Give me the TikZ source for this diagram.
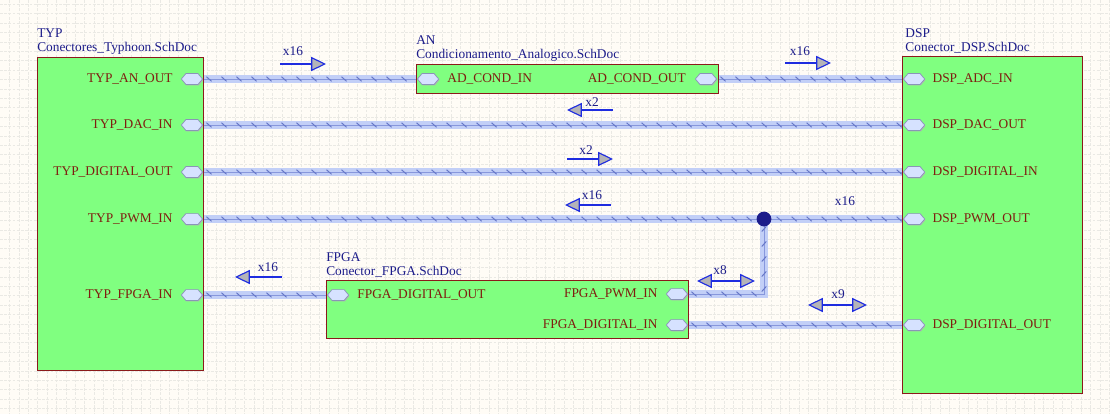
\documentclass[tikz,border=0pt]{standalone}
\usepackage{fontspec}
\setmainfont{Liberation Serif}
\usetikzlibrary{arrows.meta,positioning,shapes.symbols,decorations.markings,backgrounds,shadows}
\definecolor{paper}{HTML}{FFFCF6}
\definecolor{gridline}{HTML}{EAE9E4}
\definecolor{sheetfill}{HTML}{80FF80}
\definecolor{sheetline}{HTML}{8B1A1A}
\definecolor{portred}{HTML}{7F1D10}
\definecolor{navy}{HTML}{1C1C8A}
\definecolor{harnesslt}{HTML}{C2CFF7}
\definecolor{harnessdk}{HTML}{8797DC}
\definecolor{tickblue}{HTML}{6677C8}
\definecolor{portfill}{HTML}{D6E2FF}
\definecolor{portline}{HTML}{8A94B8}
\definecolor{dirblue}{HTML}{1E2CE0}
\definecolor{tipgrey}{HTML}{B4B4B8}
\tikzset{
  sheet/.style={
    draw=sheetline, fill=sheetfill, line width=0.7pt,
    anchor=north west, inner sep=0pt
  },
  sheetname/.style={
    align=left, inner sep=0pt, text=navy,
    font=\fontsize{9.5}{10}\selectfont
  },
  port/.style={
    shape=signal, signal to=east and west, signal pointer angle=100,
    draw=portline, fill=portfill, line width=0.5pt,
    minimum width=0.53cm, minimum height=0.27cm, inner sep=0pt,
    drop shadow={shadow xshift=0.5pt, shadow yshift=-0.7pt, fill=gray!60, opacity=1}
  },
  portname/.style={inner sep=0pt, text=portred, font=\fontsize{9.5}{11}\selectfont},
  harness/.style={
    draw=harnesslt, line width=5pt,
    postaction={draw=harnessdk, line width=0.6pt},
    postaction={decorate, decoration={markings,
      mark=between positions 0.15cm and 1 step 0.375cm with
        {\draw[tickblue, line width=0.7pt] (-1.8pt,1.6pt) -- (1.8pt,-1.6pt);}}}
  },
  junction/.style={circle, fill=navy, inner sep=0pt, minimum size=0.37cm},
  dirtip/.tip={Triangle[length=10.5pt, width=10pt, fill=tipgrey]},
  dirarrow/.style={draw=dirblue, line width=0.8pt, -dirtip},
  twoway/.style={draw=dirblue, line width=0.8pt, dirtip-dirtip},
  dirlabel/.style={inner sep=0pt, text=navy, font=\fontsize{9.5}{11}\selectfont}
}

\begin{document}
\begin{tikzpicture}[x=0.025cm, y=-0.025cm]
  \useasboundingbox (0,0) rectangle (1110,414);
  \begin{scope}[on background layer]
    \fill[paper] (0,0) rectangle (1110,414);
    \foreach \gx in {9.4,18.8,...,1110}
      \draw[gridline, line width=0.4pt, dash pattern=on 2pt off 1pt] (\gx,0) -- (\gx,414);
    \foreach \gy in {4.2,13.6,...,414}
      \draw[gridline, line width=0.4pt, dash pattern=on 2pt off 1pt] (0,\gy) -- (1110,\gy);
  \end{scope}

  % sheet symbols
  \node[sheet, minimum width=4.15cm, minimum height=7.825cm] (typ) at (37,57) {};
  \node[sheet, minimum width=7.55cm, minimum height=0.725cm] (an) at (416,64) {};
  \node[sheet, minimum width=4.5cm, minimum height=8.425cm] (dsp) at (902,56) {};
  \node[sheet, minimum width=9.05cm, minimum height=1.45cm] (fpga) at (326,280) {};

  \node[sheetname, above right=0.06cm and 0cm of typ.north west] (typname) {TYP\\Conectores\_Typhoon.SchDoc};
  \node[sheetname, above right=0.06cm and 0cm of an.north west] (anname) {AN\\Condicionamento\_Analogico.SchDoc};
  \node[sheetname, above right=0.06cm and 0.08cm of dsp.north west] (dspname) {DSP\\Conector\_DSP.SchDoc};
  \node[sheetname, above right=0.06cm and 0cm of fpga.north west] (fpganame) {FPGA\\Conector\_FPGA.SchDoc};

  % sheet entries
  \node[port, anchor=east] (typan) at (203,79) {};
  \node[port, anchor=east] (typdac) at (203,125) {};
  \node[port, anchor=east] (typdig) at (203,172) {};
  \node[port, anchor=east] (typpwm) at (203,219) {};
  \node[port, anchor=east] (typfpga) at (203,295) {};
  \node[portname, left=0.2cm of typan] {TYP\_AN\_OUT};
  \node[portname, left=0.2cm of typdac] {TYP\_DAC\_IN};
  \node[portname, left=0.2cm of typdig] {TYP\_DIGITAL\_OUT};
  \node[portname, left=0.2cm of typpwm] {TYP\_PWM\_IN};
  \node[portname, left=0.2cm of typfpga] {TYP\_FPGA\_IN};

  \node[port, anchor=west] (anin) at (417,79) {};
  \node[port, anchor=east] (anout) at (717,79) {};
  \node[portname, right=0.2cm of anin] {AD\_COND\_IN};
  \node[portname, left=0.22cm of anout] {AD\_COND\_OUT};

  \node[port, anchor=west] (dspadc) at (903,79) {};
  \node[port, anchor=west] (dspdac) at (903,125) {};
  \node[port, anchor=west] (dspdig) at (903,172) {};
  \node[port, anchor=west] (dsppwm) at (903,219) {};
  \node[port, anchor=west] (dspdigout) at (903,325) {};
  \node[portname, right=0.18cm of dspadc] {DSP\_ADC\_IN};
  \node[portname, right=0.18cm of dspdac] {DSP\_DAC\_OUT};
  \node[portname, right=0.18cm of dspdig] {DSP\_DIGITAL\_IN};
  \node[portname, right=0.18cm of dsppwm] {DSP\_PWM\_OUT};
  \node[portname, right=0.18cm of dspdigout] {DSP\_DIGITAL\_OUT};

  \node[port, anchor=west] (fpgaout) at (327,295) {};
  \node[port, anchor=east] (fpgapwm) at (688,294) {};
  \node[port, anchor=east] (fpgadig) at (688,325) {};
  \node[portname, right=0.2cm of fpgaout] {FPGA\_DIGITAL\_OUT};
  \node[portname, left=0.2cm of fpgapwm] {FPGA\_PWM\_IN};
  \node[portname, left=0.2cm of fpgadig] {FPGA\_DIGITAL\_IN};

  \node[junction] (pwmjunc) at (764,219) {};

  % harnesses
  \begin{scope}[on background layer]
    \draw[harness] (typan.east) -- (anin.west);
    \draw[harness] (anout.east) -- (dspadc.west);
    \draw[harness] (typdac.east) -- (dspdac.west);
    \draw[harness] (typdig.east) -- (dspdig.west);
    \draw[harness] (typpwm.east) -- (dsppwm.west);
    \draw[harness] (fpgapwm.east) -| (pwmjunc.center);
    \draw[harness] (typfpga.east) -- (fpgaout.west);
    \draw[harness] (fpgadig.east) -- (dspdigout.west);
  \end{scope}

  % direction markers
  \coordinate (d1a) at (280,64);  \coordinate (d1b) at (326,64);
  \coordinate (d2a) at (785,63);  \coordinate (d2b) at (831,63);
  \coordinate (d3a) at (613,110); \coordinate (d3b) at (567,110);
  \coordinate (d4a) at (567,159); \coordinate (d4b) at (613,159);
  \coordinate (d5a) at (611,205); \coordinate (d5b) at (565,205);
  \coordinate (d6a) at (282,277); \coordinate (d6b) at (235,277);
  \coordinate (d7a) at (697,281); \coordinate (d7b) at (755,281);
  \coordinate (d8a) at (808,305); \coordinate (d8b) at (867,305);
  \draw[dirarrow] (d1a) -- (d1b);
  \draw[dirarrow] (d2a) -- (d2b);
  \draw[dirarrow] (d3a) -- (d3b);
  \draw[dirarrow] (d4a) -- (d4b);
  \draw[dirarrow] (d5a) -- (d5b);
  \draw[dirarrow] (d6a) -- (d6b);
  \draw[twoway] (d7a) -- (d7b);
  \draw[twoway] (d8a) -- (d8b);
  \node[dirlabel] (w1) at (293,51) {x16};
  \node[dirlabel] (w2) at (800,51) {x16};
  \node[dirlabel] (w3) at (592,102) {x2};
  \node[dirlabel] (w4) at (586,150) {x2};
  \node[dirlabel] (w5) at (592,195) {x16};
  \node[dirlabel] (w6) at (845,201) {x16};
  \node[dirlabel] (w7) at (268,267) {x16};
  \node[dirlabel] (w8) at (720,270) {x8};
  \node[dirlabel] (w9) at (838,294) {x9};
\end{tikzpicture}
\end{document}
